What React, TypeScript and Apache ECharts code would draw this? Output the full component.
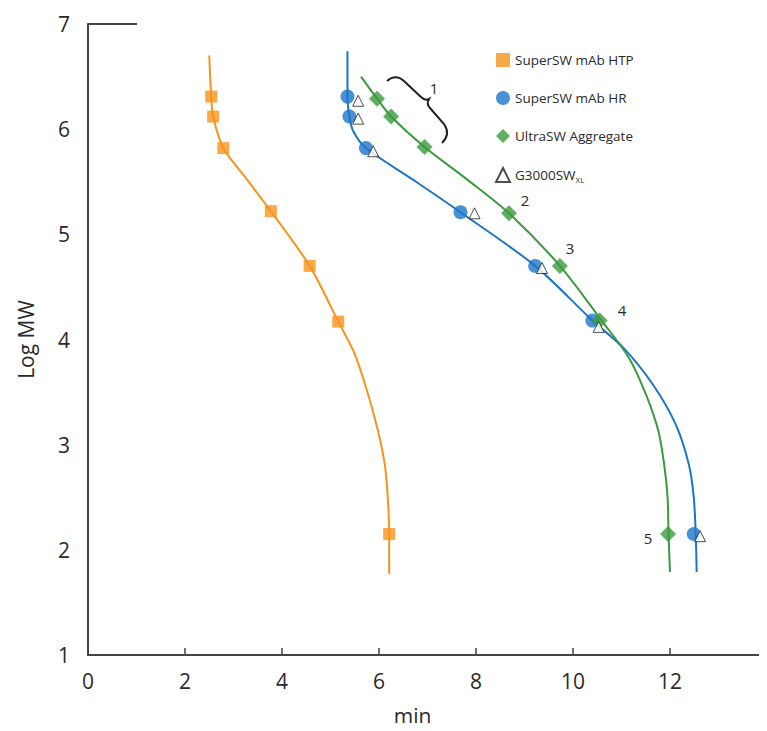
import React, { useEffect, useRef } from "react";
import * as echarts from "echarts";

const htpPoints = [[2.54, 6.31], [2.58, 6.12], [2.79, 5.82], [3.77, 5.22], [4.57, 4.70], [5.16, 4.17], [6.21, 2.15]];
const htpCurve = [[2.50, 6.70], [2.54, 6.31], [2.58, 6.12], [2.79, 5.82], [3.28, 5.52], [3.77, 5.22], [4.57, 4.70], [5.16, 4.17], [5.51, 3.85], [5.78, 3.47], [5.98, 3.13], [6.12, 2.81], [6.18, 2.50], [6.21, 2.15], [6.21, 1.77]];

const hrPoints = [[5.35, 6.31], [5.39, 6.12], [5.73, 5.82], [7.68, 5.21], [9.22, 4.70], [10.40, 4.18], [12.49, 2.15]];
const hrCurve = [[5.35, 6.74], [5.35, 6.31], [5.39, 6.12], [5.47, 5.98], [5.73, 5.82], [6.70, 5.52], [7.68, 5.21], [9.22, 4.70], [10.40, 4.18], [11.04, 3.92], [11.65, 3.57], [12.12, 3.19], [12.39, 2.81], [12.49, 2.50], [12.53, 2.15], [12.55, 1.79]];

const aggPoints = [[5.96, 6.29], [6.25, 6.12], [6.94, 5.83], [8.68, 5.20], [9.73, 4.70], [10.55, 4.18], [11.96, 2.15]];
const aggCurve = [[5.63, 6.50], [5.96, 6.29], [6.25, 6.12], [6.94, 5.83], [7.82, 5.52], [8.68, 5.20], [9.73, 4.70], [10.59, 4.18], [11.16, 3.82], [11.51, 3.47], [11.76, 3.13], [11.88, 2.81], [11.95, 2.50], [11.97, 2.15], [12.00, 1.79]];

const g3000Points = [[5.57, 6.27], [5.57, 6.10], [5.88, 5.79], [7.97, 5.20], [9.36, 4.68], [10.53, 4.12], [12.62, 2.13]];

const xTicks = [0, 2, 4, 6, 8, 10, 12];
const yTicks = [1, 2, 3, 4, 5, 6, 7];

const legendNames = ["SuperSW mAb HTP", "SuperSW mAb HR", "UltraSW Aggregate", "G3000SW"];
const peakLabels = ["1", "2", "3", "4", "5"];

const ORANGE = "#F7941D";
const BLUE = "#1B75C9";
const GREEN = "#3A9A3C";
const FONT = "'Open Sans', 'Noto Sans', sans-serif";

const bracePath = "M 387 81 Q 396 73 405 82 L 421 97 Q 425 101 429 99 Q 426 104 430 108 L 444 124 Q 451 134 442 143";
echarts.graphic.registerShape("brace", (echarts.graphic as any).extendPath(bracePath, {}));

export default function App() {
  const ref = useRef<HTMLDivElement>(null);
  useEffect(() => {
    if (!ref.current) return;
    const chart = echarts.init(ref.current, null, { renderer: "svg" });
    const lineSeries = (name: string, data: number[][], color: string) => ({
      name,
      type: "line",
      data,
      smooth: 0.3,
      symbol: "none",
      lineStyle: { color, width: 2 },
      z: 2,
    });
    const labelPos = [[434, 88], [525, 200], [570, 248], [622, 310], [648, 538]];
    chart.setOption({
      animation: false,
      backgroundColor: "#ffffff",
      grid: { left: 88, top: 24, bottom: 73, right: -5, containLabel: false },
      legend: {
        orient: "vertical",
        left: 490,
        top: 48,
        itemWidth: 14,
        itemHeight: 14,
        itemGap: 24,
        data: legendNames,
        textStyle: {
          fontFamily: FONT,
          fontSize: 13.5,
          color: "#2a2a2a",
          rich: { sub: { fontSize: 8, verticalAlign: "bottom", padding: [8, 0, 0, 0], fontFamily: FONT, color: "#2a2a2a" } },
        },
        formatter: (n: string) => (n === "G3000SW" ? "G3000SW{sub|XL}" : n),
      },
      xAxis: {
        type: "value",
        min: 0,
        max: 14,
        interval: 2,
        name: "min",
        nameLocation: "middle",
        nameGap: 50,
        nameTextStyle: { fontFamily: FONT, fontSize: 21, color: "#2a2a2a", padding: [0, 30, 0, 0] },
        axisLine: { lineStyle: { color: "#444", width: 2 } },
        axisTick: { show: true, inside: true, length: 7, lineStyle: { color: "#444", width: 1.5 } },
        axisLabel: {
          fontFamily: FONT,
          fontSize: 21,
          color: "#2a2a2a",
          margin: 15,
          showMaxLabel: false,
          formatter: (v: number) => (xTicks.includes(v) ? String(v) : ""),
        },
        splitLine: { show: false },
      },
      yAxis: {
        type: "value",
        min: 1,
        max: 7,
        interval: 1,
        name: "Log MW",
        nameLocation: "middle",
        nameGap: 52,
        nameTextStyle: { fontFamily: FONT, fontSize: 21, color: "#2a2a2a" },
        axisLine: { show: true, lineStyle: { color: "#444", width: 2 } },
        axisTick: { show: false },
        axisLabel: {
          fontFamily: FONT,
          fontSize: 21,
          color: "#2a2a2a",
          margin: 18,
          formatter: (v: number) => (yTicks.includes(v) ? String(v) : ""),
        },
        splitLine: { show: false },
      },
      series: [
        lineSeries("htpCurve", htpCurve, ORANGE),
        lineSeries("hrCurve", hrCurve, BLUE),
        lineSeries("aggCurve", aggCurve, GREEN),
        {
          name: legendNames[0],
          type: "scatter",
          data: htpPoints,
          symbol: "rect",
          symbolSize: 12,
          itemStyle: { color: ORANGE },
          z: 3,
        },
        {
          name: legendNames[1],
          type: "scatter",
          data: hrPoints,
          symbol: "circle",
          symbolSize: 14,
          itemStyle: { color: BLUE },
          z: 3,
        },
        {
          name: legendNames[2],
          type: "scatter",
          data: aggPoints,
          symbol: "diamond",
          symbolSize: 16,
          itemStyle: { color: GREEN },
          z: 3,
        },
        {
          name: legendNames[3],
          type: "scatter",
          data: g3000Points,
          symbol: "triangle",
          symbolSize: 11,
          itemStyle: { color: "#ffffff", borderColor: "#222", borderWidth: 1 },
          z: 4,
        },
      ],
      graphic: [
        { type: "line", shape: { x1: 88, y1: 24, x2: 137, y2: 24 }, style: { stroke: "#444", lineWidth: 2 }, z: 10 },
        { type: "brace", x: 0, y: 0, style: { fill: "none", stroke: "#222", lineWidth: 2 }, z: 10 },
        ...peakLabels.map((t, i) => ({
          type: "text",
          x: labelPos[i][0],
          y: labelPos[i][1],
          style: { text: t, fontFamily: FONT, fontSize: 15, fill: "#2a2a2a", align: "center", verticalAlign: "middle" },
          z: 10,
        })),
      ],
    });
    return () => chart.dispose();
  }, []);
  return <div ref={ref} style={{ width: 767, height: 731, margin: -8 }} />;
}
